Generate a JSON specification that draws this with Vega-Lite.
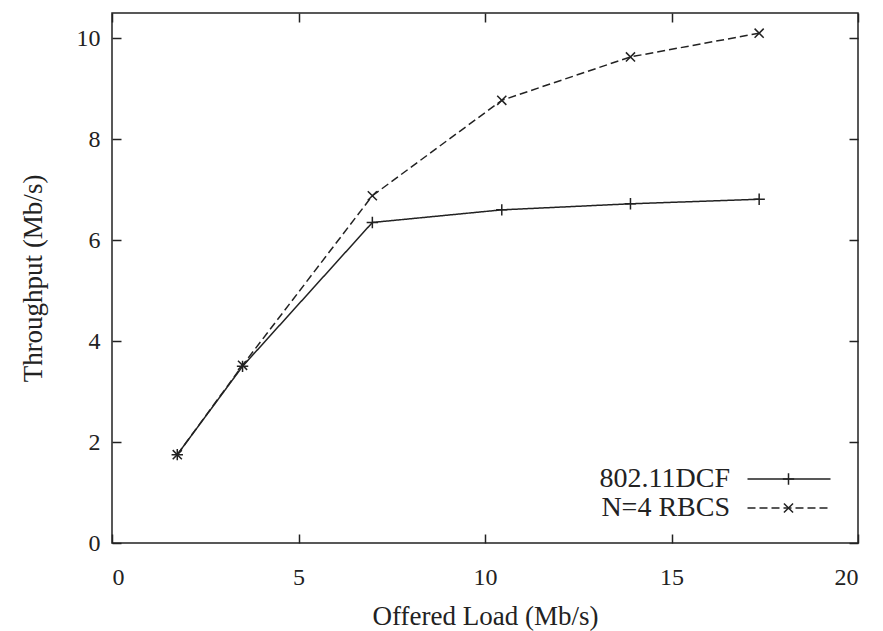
{
  "$schema": "https://vega.github.io/schema/vega-lite/v6.json",
  "autosize": "none",
  "width": 746,
  "height": 530,
  "padding": {"left": 112, "top": 13, "right": 25, "bottom": 88},
  "background": "white",
  "config": {
    "font": "Liberation Serif",
    "view": {"stroke": "#222", "strokeWidth": 1.5},
    "axis": {"labelFont": "Liberation Serif", "titleFont": "Liberation Serif", "labelFontSize": 24, "titleFontSize": 27, "labelColor": "#222", "titleColor": "#222", "titleFontWeight": "normal", "grid": false, "domain": false, "tickColor": "#222", "tickWidth": 1.5},
    "legend": {"labelFont": "Liberation Serif", "labelFontSize": 28, "labelColor": "#222"}
  },
  "data": {"values": [
    {"load": 1.75, "throughput": 1.75, "series": "802.11DCF"},
    {"load": 3.5, "throughput": 3.5, "series": "802.11DCF"},
    {"load": 6.98, "throughput": 6.35, "series": "802.11DCF"},
    {"load": 10.45, "throughput": 6.6, "series": "802.11DCF"},
    {"load": 13.9, "throughput": 6.72, "series": "802.11DCF"},
    {"load": 17.35, "throughput": 6.81, "series": "802.11DCF"},
    {"load": 1.75, "throughput": 1.75, "series": "N=4 RBCS"},
    {"load": 3.5, "throughput": 3.52, "series": "N=4 RBCS"},
    {"load": 6.98, "throughput": 6.88, "series": "N=4 RBCS"},
    {"load": 10.45, "throughput": 8.77, "series": "N=4 RBCS"},
    {"load": 13.9, "throughput": 9.63, "series": "N=4 RBCS"},
    {"load": 17.35, "throughput": 10.1, "series": "N=4 RBCS"}
  ]},
  "resolve": {"axis": {"x": "independent", "y": "independent"}},
  "layer": [
    {
      "mark": {"type": "line", "color": "#222", "strokeWidth": 1.5},
      "encoding": {
        "x": {"field": "load", "type": "quantitative", "scale": {"domain": [0, 20], "nice": false},
              "axis": {"orient": "bottom", "title": "Offered Load (Mb/s)", "values": [0, 5, 10, 15, 20], "tickSize": -9, "labelPadding": 31, "titlePadding": 14}},
        "y": {"field": "throughput", "type": "quantitative", "scale": {"domain": [0, 10.5], "nice": false},
              "axis": {"orient": "left", "title": "Throughput (Mb/s)", "values": [0, 2, 4, 6, 8, 10], "tickSize": -9, "labelPadding": 21, "titlePadding": 29}},
        "strokeDash": {"field": "series", "type": "nominal",
          "scale": {"domain": ["802.11DCF", "N=4 RBCS"], "range": [[1, 0], [8, 4]]},
          "legend": {"orient": "none", "legendX": 663, "legendY": 452, "title": null, "symbolType": "M-8.3,0H8.3", "symbolSize": 100, "symbolStrokeWidth": 1.5, "symbolStrokeColor": "#222", "labelAlign": "right", "labelOffset": -73, "rowPadding": 1, "padding": 0}}
      }
    },
    {
      "mark": {"type": "point", "filled": false, "color": "#222", "strokeWidth": 1.5, "size": 130, "opacity": 1},
      "encoding": {
        "x": {"field": "load", "type": "quantitative", "axis": {"orient": "top", "title": null, "labels": false, "values": [0, 5, 10, 15, 20], "tickSize": -9}},
        "y": {"field": "throughput", "type": "quantitative", "axis": {"orient": "right", "title": null, "labels": false, "values": [0, 2, 4, 6, 8, 10], "tickSize": -9}},
        "shape": {"field": "series", "type": "nominal",
          "scale": {"range": ["M0,-1V1M-1,0H1", "M-0.8,-0.8L0.8,0.8M-0.8,0.8L0.8,-0.8"]},
          "legend": {"orient": "none", "legendX": 662.5, "legendY": 452, "title": null, "labelExpr": "''", "symbolSize": 130, "symbolStrokeWidth": 1.5, "symbolStrokeColor": "#222", "symbolFillColor": "transparent", "rowPadding": 1, "padding": 0, "labelFontSize": 28}}
      }
    }
  ]
}
